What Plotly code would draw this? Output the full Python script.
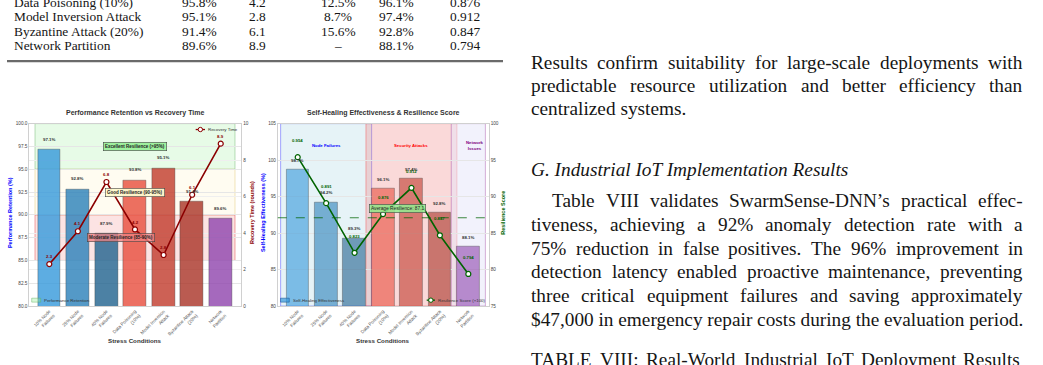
import plotly.graph_objects as go

W, H = 1043, 365

# ---------------- data ----------------
categories = ["10% Node<br>Failures", "25% Node<br>Failures", "40% Node<br>Failures",
              "Data Poisoning<br>(10%)", "Model Inversion<br>Attack",
              "Byzantine Attack<br>(20%)", "Network<br>Partition"]
performance_retention = [97.1, 92.8, 87.9, 93.8, 95.1, 91.4, 89.6]
recovery_time = [2.3, 4.1, 6.8, 4.2, 2.8, 6.1, 8.9]
self_healing = [98.7, 94.2, 89.3, 96.1, 97.4, 92.8, 88.1]
resilience_score = [0.954, 0.891, 0.823, 0.876, 0.912, 0.847, 0.794]

retention_ticks = [80.0, 82.5, 85.0, 87.5, 90.0, 92.5, 95.0, 97.5, 100.0]
recovery_ticks = [0, 2, 4, 6, 8, 10]
healing_ticks = [80, 85, 90, 95, 100, 105]
resilience_ticks = [75, 80, 85, 90, 95, 100]

resilience_bands = [("Excellent Resilience (>95%)", 95, 100),
                    ("Good Resilience (90-95%)", 90, 95),
                    ("Moderate Resilience (85-90%)", 85, 90)]
condition_groups = [("Node Failures", 0, 2), ("Security Attacks", 3, 5), ("Network<br>Issues", 6, 6)]

table_conditions = ["Data Poisoning (10%)", "Model Inversion Attack", "Byzantine Attack (20%)", "Network Partition"]
table_retention = ["95.8%", "95.1%", "91.4%", "89.6%"]
table_recovery = ["4.2", "2.8", "6.1", "8.9"]
table_degradation = ["12.5%", "8.7%", "15.6%", "–"]
table_healing = ["96.1%", "97.4%", "92.8%", "88.1%"]
table_resilience = ["0.876", "0.912", "0.847", "0.794"]

para1 = ["Results confirm suitability for large-scale deployments with",
         "predictable resource utilization and better efficiency than",
         "centralized systems."]
heading = "G. Industrial IoT Implementation Results"
para2 = ["Table VIII validates SwarmSense-DNN’s practical effec-",
         "tiveness, achieving a 92% anomaly detection rate with a",
         "75% reduction in false positives. The 96% improvement in",
         "detection latency enabled proactive maintenance, preventing",
         "three critical equipment failures and saving approximately",
         "$47,000 in emergency repair costs during the evaluation period."]
caption = "TABLE VIII: Real-World Industrial IoT Deployment Results"

# ---------------- style ----------------
SERIF = "Liberation Serif"
SANS = "Liberation Sans"
left_colors = ["rgba(52,152,219,0.8)", "rgba(41,128,185,0.8)", "rgba(31,97,141,0.8)",
               "rgba(231,76,60,0.8)", "rgba(192,57,43,0.8)", "rgba(169,50,38,0.8)", "rgba(142,68,173,0.8)"]
right_colors = [c.replace("0.8)", "0.6)") for c in left_colors]
band_fill = ["rgba(144,238,144,0.22)", "rgba(255,230,150,0.13)", "rgba(240,128,128,0.22)"]
band_line = ["rgba(90,170,90,0.45)", "rgba(220,190,90,0.45)", "rgba(230,70,70,0.55)"]
band_box = ["rgba(144,238,144,0.85)", "rgba(255,250,205,0.95)", "rgba(240,128,128,0.75)"]
band_label_x = [3.0, 3.0, 2.5]
group_fill = ["rgba(173,216,230,0.3)", "rgba(240,128,128,0.3)", "rgba(230,230,250,0.5)"]
group_line = ["rgba(0,0,255,0.35)", "rgba(255,0,0,0.3)", "rgba(128,0,128,0.3)"]
group_text = ["blue", "red", "purple"]
group_label_x = [1.0, 4.0, 6.22]

def PX(x):
    return x / W

def PY(y):
    return 1 - y / H

widths = {' ': 250, '!': 333, '"': 408, '#': 500, '$': 500, '%': 833, '&': 778, "'": 180,
          '(': 333, ')': 333, '*': 500, '+': 564, ',': 250, '-': 333, '.': 250, '/': 278,
          ':': 278, ';': 278, '?': 444, '’': 333, '–': 500}
for ch in "0123456789":
    widths[ch] = 500
for ch, w in zip("ABCDEFGHIJKLMNOPQRSTUVWXYZ",
                 [722, 667, 667, 722, 611, 556, 722, 722, 333, 389, 722, 611, 889, 722, 722,
                  556, 722, 667, 556, 611, 722, 722, 944, 722, 722, 611]):
    widths[ch] = w
for ch, w in zip("abcdefghijklmnopqrstuvwxyz",
                 [444, 500, 444, 500, 444, 333, 500, 500, 278, 278, 500, 278, 778, 500, 500,
                  500, 500, 333, 389, 278, 500, 500, 722, 500, 500, 444]):
    widths[ch] = w

def text_width(s, size):
    return sum(widths.get(c, 500) for c in s) * size / 1000.0

annotations = []
shapes = []

def add_text(x, y, s, size, family=SERIF, color="#151515", xanchor="left", yanchor="middle",
             xref="paper", yref="paper", angle=0, **kw):
    d = dict(x=x, y=y, xref=xref, yref=yref, text=s, showarrow=False,
             font=dict(family=family, size=size, color=color),
             xanchor=xanchor, yanchor=yanchor, textangle=angle, borderpad=0, borderwidth=0)
    d.update(kw)
    annotations.append(d)

BODY = 19.3

def add_line(y, s, left, right, size=BODY, justify=True):
    words = s.split(" ")
    if not justify or len(words) == 1:
        add_text(PX(left), PY(y), s, size)
        return
    ws = [text_width(w, size) for w in words]
    gap = (right - left - sum(ws)) / (len(words) - 1)
    x = left
    for i, (w, wd) in enumerate(zip(words, ws)):
        if i == len(words) - 1:
            add_text(PX(right), PY(y), w, size, xanchor="right")
        else:
            add_text(PX(x), PY(y), w, size)
        x += wd + gap

# ---------------- page text: table ----------------
row_y = [0.3, 15, 29.5, 44]
col_x = [199, 257, 338, 396, 465]
TAB = 13.4
for i, y in enumerate(row_y):
    add_text(PX(14), PY(y), table_conditions[i], TAB)
    for cx, col in zip(col_x, [table_retention, table_recovery, table_degradation,
                               table_healing, table_resilience]):
        add_text(PX(cx), PY(y), col[i], TAB, xanchor="center")
shapes.append(dict(type="line", xref="paper", yref="paper", x0=PX(7), x1=PX(503),
                   y0=PY(60), y1=PY(60), line=dict(color="#6a6a6a", width=2.2)))

# ---------------- page text: right column ----------------
L, R = 531, 1023
for k, (y, s) in enumerate(zip([61.7, 85, 108.3], para1)):
    add_line(y, s, L, R, justify=(k < len(para1) - 1))
add_text(PX(L), PY(170), "<i>" + heading + "</i>", BODY)
for k, (y, s) in enumerate(zip([201.7, 225.7, 249.7, 273.7, 297.7, 321.7], para2)):
    add_line(y, s, L + 21 if k == 0 else L, R, justify=(k < len(para2) - 1))
add_line(362, caption, L, 1020)

# ---------------- charts ----------------
idx = list(range(len(categories)))
fig = go.Figure()

fig.add_trace(go.Bar(x=idx, y=performance_retention, xaxis="x", yaxis="y", width=0.8,
                     marker=dict(color=left_colors, line=dict(color="rgba(60,60,60,0.45)", width=0.8)),
                     hoverinfo="skip"))
fig.add_trace(go.Scatter(x=idx, y=recovery_time, xaxis="x", yaxis="y2", mode="lines+markers",
                         line=dict(color="darkred", width=1.6),
                         marker=dict(size=5, color="white", line=dict(color="darkred", width=1.2)),
                         hoverinfo="skip"))
fig.add_trace(go.Bar(x=idx, y=self_healing, xaxis="x2", yaxis="y3", width=0.8,
                     marker=dict(color=right_colors, line=dict(color="rgba(60,60,60,0.45)", width=0.8)),
                     hoverinfo="skip"))
fig.add_trace(go.Scatter(x=idx, y=[r * 100 for r in resilience_score], xaxis="x2", yaxis="y4",
                         mode="lines+markers", line=dict(color="darkgreen", width=1.6),
                         marker=dict(size=5, color="white", line=dict(color="darkgreen", width=1.2)),
                         hoverinfo="skip"))

# left chart bands
for (label, lo, hi), fc, lc, bc, lx in zip(resilience_bands, band_fill, band_line, band_box, band_label_x):
    shapes.append(dict(type="rect", xref="x", yref="y", x0=-0.5, x1=len(idx) - 0.5, y0=lo, y1=hi,
                       fillcolor=fc, line=dict(color=lc, width=0.9), layer="below"))
    add_text(lx, (lo + hi) / 2, "<b>" + label + "</b>", 4.5, family=SANS, color="#222",
             xanchor="center", xref="x", yref="y", bgcolor=bc, bordercolor="#444",
             borderwidth=0.6, borderpad=1.4)

for i, v in enumerate(performance_retention):
    add_text(i, v + 1.15, "<b>%.1f%%</b>" % v, 4.4, family=SANS, color="#333",
             xanchor="center", xref="x", yref="y")
for i, v in enumerate(recovery_time):
    add_text(i, v + 0.4, "<b>%.1f</b>" % v, 4.4, family=SANS, color="darkred",
             xanchor="center", xref="x", yref="y2")

# right chart groups
for (label, a, b), fc, lc, tc, lx in zip(condition_groups, group_fill, group_line, group_text, group_label_x):
    shapes.append(dict(type="rect", xref="x2", yref="y3 domain", x0=a - 0.6, x1=b + 0.6, y0=0, y1=1,
                       fillcolor=fc, line=dict(color=lc, width=1), layer="below"))
    add_text(lx, 102, "<b>" + label + "</b>", 4.3, family=SANS, color=tc,
             xanchor="center", xref="x2", yref="y3")

avg_res = sum(resilience_score) / len(resilience_score) * 100
shapes.append(dict(type="line", xref="x2 domain", yref="y4", x0=0, x1=1, y0=avg_res, y1=avg_res,
                   line=dict(color="rgba(0,100,0,0.75)", width=1, dash="dash")))
add_text(3.5, avg_res + 1.3, "Average Resilience: %.1f" % avg_res, 4.8, family=SANS, color="#222",
         xanchor="center", xref="x2", yref="y4", bgcolor="rgba(144,238,144,0.85)",
         bordercolor="#444", borderwidth=0.6, borderpad=1.3)

for i, v in enumerate(self_healing):
    add_text(i, v + 1.3, "<b>%.1f%%</b>" % v, 4.4, family=SANS, color="#333",
             xanchor="center", xref="x2", yref="y3")
for i, r in enumerate(resilience_score):
    add_text(i, r * 100 + 2.3, "<b>%.3f</b>" % r, 4.3, family=SANS, color="darkgreen",
             xanchor="center", xref="x2", yref="y4")

# titles and axis titles
for cx, title in [(135.3, "Performance Retention vs Recovery Time"),
                  (383.3, "Self-Healing Effectiveness & Resilience Score")]:
    add_text(PX(cx), PY(113), "<b>" + title + "</b>", 7, family=SANS, color="#333", xanchor="center")
    add_text(PX(cx), PY(343), "<b>Stress Conditions</b>", 6.2, family=SANS, color="#333", xanchor="center")
for x, s, c in [(10, "Performance Retention (%)", "blue"), (252, "Recovery Time (rounds)", "darkred"),
                (263, "Self-Healing Effectiveness (%)", "blue"), (502.7, "Resilience Score", "darkgreen")]:
    add_text(PX(x), PY(214), "<b>" + s + "</b>", 5.5, family=SANS, color=c, xanchor="center", angle=-90)

# legends (drawn)
def legend_line(x0, x1, y, color, label):
    shapes.append(dict(type="line", xref="paper", yref="paper", x0=PX(x0), x1=PX(x1), y0=PY(y), y1=PY(y),
                       line=dict(color=color, width=1.3)))
    cx = (x0 + x1) / 2
    shapes.append(dict(type="circle", xref="paper", yref="paper", x0=PX(cx - 2.2), x1=PX(cx + 2.2),
                       y0=PY(y + 2.2), y1=PY(y - 2.2), fillcolor="white", line=dict(color=color, width=1)))
    add_text(PX(x1 + 2.5), PY(y), label, 4.4, family=SANS, color="#333")

def legend_patch(x0, x1, y, fill, edge, label):
    shapes.append(dict(type="rect", xref="paper", yref="paper", x0=PX(x0), x1=PX(x1), y0=PY(y + 2),
                       y1=PY(y - 2), fillcolor=fill, line=dict(color=edge, width=0.7)))
    add_text(PX(x1 + 3.5), PY(y), label, 4.4, family=SANS, color="#333")

legend_line(195.7, 205, 129.3, "darkred", "Recovery Time")
legend_patch(31.7, 40.7, 302.3, "rgba(144,238,144,0.35)", "rgba(90,170,90,0.6)", "Performance Retention")
legend_patch(280.5, 289.3, 302.3, "rgba(52,152,219,0.7)", "rgba(30,90,150,0.8)", "Self-Healing Effectiveness")
legend_line(426.7, 435, 302.3, "darkgreen", "Resilience Score (×100)")

axis_common = dict(showline=True, linecolor="#d0d0d0", linewidth=0.8, zeroline=False, ticks="",
                   tickfont=dict(family=SANS, size=4.7, color="#444"))
xtickfont = dict(family=SANS, size=4.6, color="#555")
ydom = [PY(308.3), PY(123.3)]
fig.update_layout(
    width=W, height=H, margin=dict(l=0, r=0, t=0, b=0), autosize=False,
    paper_bgcolor="white", plot_bgcolor="white", showlegend=False, bargap=0,
    xaxis=dict(domain=[PX(29.3), PX(241.3)], range=[-0.7, 6.72], tickvals=idx, ticktext=categories,
               tickangle=-45, showgrid=False, mirror=True, anchor="y",
               **{**axis_common, "tickfont": xtickfont}),
    yaxis=dict(domain=ydom, range=[80, 100], tickvals=retention_ticks,
               ticktext=["%.1f" % v for v in retention_ticks], showgrid=True, gridcolor="#e6e6e6",
               gridwidth=0.6, anchor="x", **axis_common),
    yaxis2=dict(overlaying="y", side="right", anchor="x", range=[0, 10], tickvals=recovery_ticks,
                showgrid=True, gridcolor="#efefef", gridwidth=0.6, **axis_common),
    xaxis2=dict(domain=[PX(277.8), PX(488.8)], range=[-0.7, 6.72], tickvals=idx, ticktext=categories,
                tickangle=-45, showgrid=False, mirror=True, anchor="y3",
                **{**axis_common, "tickfont": xtickfont}),
    yaxis3=dict(domain=ydom, range=[80, 105], tickvals=healing_ticks, showgrid=True,
                gridcolor="#e6e6e6", gridwidth=0.6, anchor="x2", **axis_common),
    yaxis4=dict(overlaying="y3", side="right", anchor="x2", range=[75, 100], tickvals=resilience_ticks,
                showgrid=False, **axis_common),
    annotations=annotations, shapes=shapes,
)

fig.write_html("out.html", config={"displayModeBar": False})
